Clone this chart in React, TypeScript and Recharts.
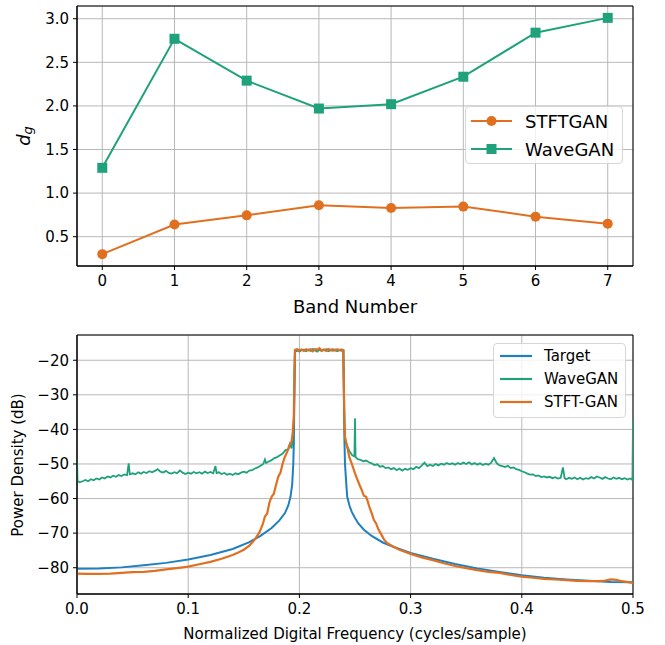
import React from 'react';
import {
  LineChart,
  Line,
  XAxis,
  YAxis,
  CartesianGrid,
  ReferenceArea
} from 'recharts';

// per-band distance d_g
const bandNumbers = [0, 1, 2, 3, 4, 5, 6, 7];
const stftganDg = [0.3, 0.64, 0.745, 0.86, 0.83, 0.845, 0.73, 0.648];
const waveganDg = [1.29, 2.77, 2.29, 1.97, 2.02, 2.335, 2.84, 3.01];

// power spectral density (dB) vs normalized frequency
const targetFreq = [
  0, 0.02, 0.04, 0.06, 0.08, 0.1, 0.12, 0.14, 0.155, 0.165, 0.175, 0.182, 0.187, 0.19, 0.192,
  0.1935, 0.1945, 0.195, 0.1955, 0.196, 0.2, 0.205, 0.21, 0.215, 0.22, 0.225, 0.23, 0.235,
  0.2395, 0.24, 0.2405, 0.241, 0.242, 0.243, 0.245, 0.247, 0.25, 0.253, 0.258, 0.265, 0.275,
  0.285, 0.3, 0.32, 0.34, 0.36, 0.38, 0.4, 0.42, 0.44, 0.46, 0.48, 0.5
];
const targetPsd = [
  -80.3, -80.2, -79.9, -79.3, -78.6, -77.6, -76.3, -74.6, -72.6, -70.8, -68.5, -66.3, -64.2, -62,
  -59.5, -56, -50, -44, -30, -17.5, -17.0, -17.1, -16.9, -17.0, -17.1, -16.9, -17.0, -17.0,
  -17.1, -30, -43, -50, -55, -59.5, -62, -63.8, -65.6, -67.2, -69, -70.8, -72.7,
  -74, -75.7, -77.4, -78.9, -80.2, -81.2, -82.2, -82.9, -83.4, -83.8, -84.1, -84.2
];

const waveganFreq = [
  0, 0.0005, 0.0025, 0.005, 0.0075, 0.01, 0.0125, 0.015, 0.0175, 0.02, 0.0225, 0.025, 0.0275,
  0.03, 0.0325, 0.035, 0.0375, 0.04, 0.0425, 0.045, 0.0465, 0.0475, 0.05, 0.0525, 0.055, 0.0575,
  0.06, 0.0625, 0.065, 0.0675, 0.07, 0.0725, 0.075, 0.0775, 0.08, 0.0825, 0.085, 0.0875, 0.09,
  0.0925, 0.095, 0.0975, 0.1, 0.1025, 0.105, 0.1075, 0.11, 0.1125, 0.115, 0.1175, 0.12, 0.1225,
  0.1245, 0.1255, 0.1275, 0.13, 0.1325, 0.135, 0.1375, 0.14, 0.1425, 0.145, 0.1475, 0.15, 0.1525,
  0.155, 0.1575, 0.16, 0.1625, 0.165, 0.1675, 0.169, 0.17, 0.1725, 0.175, 0.1775, 0.18, 0.1825,
  0.185, 0.1875, 0.19, 0.1915, 0.193, 0.194, 0.195, 0.1955, 0.196, 0.198, 0.2, 0.202, 0.204,
  0.206, 0.208, 0.21, 0.212, 0.214, 0.216, 0.218, 0.22, 0.222, 0.224, 0.226, 0.228, 0.23, 0.232,
  0.234, 0.236, 0.238, 0.2395, 0.24, 0.2405, 0.241, 0.2425, 0.245, 0.2475, 0.2495, 0.25, 0.2505,
  0.2525, 0.255, 0.2575, 0.26, 0.2625, 0.265, 0.2675, 0.27, 0.2725, 0.275, 0.2775, 0.28, 0.2825,
  0.285, 0.2875, 0.29, 0.2925, 0.295, 0.2975, 0.3, 0.3025, 0.305, 0.3075, 0.31, 0.3125, 0.315,
  0.3175, 0.32, 0.3225, 0.325, 0.3275, 0.33, 0.3325, 0.335, 0.3375, 0.34, 0.3425, 0.345, 0.3475,
  0.35, 0.3525, 0.355, 0.3575, 0.36, 0.3625, 0.365, 0.3675, 0.37, 0.3725, 0.375, 0.3775, 0.38,
  0.3825, 0.385, 0.3875, 0.39, 0.3925, 0.395, 0.3975, 0.4, 0.4025, 0.405, 0.4075, 0.41, 0.4125,
  0.415, 0.4175, 0.42, 0.4225, 0.425, 0.4275, 0.43, 0.4325, 0.435, 0.437, 0.4385, 0.44, 0.4425,
  0.445, 0.4475, 0.45, 0.4525, 0.455, 0.4575, 0.46, 0.4625, 0.465, 0.4675, 0.47, 0.4725, 0.475,
  0.4775, 0.48, 0.4825, 0.485, 0.4875, 0.49, 0.4925, 0.495, 0.4975, 0.4995, 0.5
];
const waveganPsd = [
  -48.5, -55.0, -55.3, -55.0, -54.6, -55.0, -54.4, -54.7, -54.2, -54.5, -53.9, -54.2, -53.6,
  -53.9, -53.4, -53.7, -53.2, -53.5, -53.0, -53.2, -49.8, -53.0, -52.7, -53.0, -52.4, -52.8,
  -52.3, -52.6, -52.1, -52.4, -52.0, -51.5, -52.2, -52.5, -52.0, -52.6, -52.8, -52.4, -52.7,
  -51.9, -52.5, -52.9, -52.5, -52.8, -52.3, -52.7, -52.4, -52.8, -52.2, -52.6, -52.3, -52.7,
  -50.6, -52.6, -52.4, -52.9, -52.6, -53.1, -52.8, -53.2, -52.7, -53.0, -52.5, -52.2, -52.5,
  -51.9, -51.8, -51.3, -51.0, -50.5, -50.0, -48.7, -49.7, -49.3, -48.9, -48.3, -48.0, -47.5,
  -47.0, -46.0, -45.8, -44.2, -45.5, -43, -38, -26, -17.3, -17.0, -17.5, -17.1, -16.9,
  -17.4, -17.0, -17.3, -16.8, -17.2, -17.5, -17.0, -17.3, -17.1, -16.9, -17.4, -17.1, -17.3, -17.0,
  -17.4, -17.1, -17.3, -17.2, -26, -38, -43, -44.5, -46.3, -47.5, -47.8, -36.8, -48.0,
  -48.6, -48.8, -49.2, -49.0, -49.5, -49.8, -50.3, -50.1, -50.8, -50.6, -51.2, -51.0, -51.5,
  -51.2, -51.8, -51.3, -51.9, -51.4, -51.7, -51.2, -51.5, -50.8, -51.2, -50.5, -49.6, -50.6,
  -50.2, -50.6, -50.0, -50.4, -49.9, -50.2, -49.7, -50.1, -49.8, -50.2, -49.7, -50.1, -49.6,
  -50.0, -49.5, -50.1, -49.7, -50.2, -49.8, -50.3, -49.9, -50.2, -49.6, -48.3, -49.8, -50.4,
  -50.6, -50.9, -50.5, -51.2, -51.0, -51.5, -51.7, -52.1, -52.4, -52.8, -53.1, -53.0, -53.5,
  -53.3, -53.8, -53.6, -53.9, -53.7, -54.1, -53.8, -54.2, -54.0, -51.0, -54.1, -54.4, -54.0,
  -54.3, -53.9, -54.4, -54.0, -54.5, -54.1, -54.3, -53.8, -54.2, -53.6, -53.9, -54.3, -53.8,
  -54.2, -54.4, -53.9, -54.3, -54.0, -54.4, -54.1, -54.5, -54.2, -54.6, -37.3
];

const stftFreq = [
  0, 0.01, 0.02, 0.03, 0.04, 0.05, 0.06, 0.07, 0.08, 0.09, 0.1, 0.11, 0.12, 0.13, 0.14, 0.145,
  0.15, 0.155, 0.16, 0.164, 0.167, 0.169, 0.171, 0.173, 0.175, 0.177, 0.179, 0.181, 0.183, 0.185,
  0.187, 0.189, 0.191, 0.193, 0.194, 0.195, 0.1955, 0.196, 0.198, 0.2, 0.202, 0.204, 0.206, 0.208,
  0.21, 0.212, 0.214, 0.216, 0.218, 0.22, 0.222, 0.224, 0.226, 0.228, 0.23, 0.232, 0.234, 0.236,
  0.238, 0.2395, 0.24, 0.2405, 0.241, 0.243, 0.245, 0.247, 0.25, 0.252, 0.254, 0.256, 0.258, 0.26,
  0.261, 0.263, 0.265, 0.267, 0.269, 0.271, 0.273, 0.276, 0.279, 0.285, 0.29, 0.3, 0.31, 0.32,
  0.33, 0.34, 0.35, 0.36, 0.37, 0.38, 0.39, 0.4, 0.41, 0.42, 0.43, 0.44, 0.45, 0.46, 0.47, 0.475,
  0.48, 0.485, 0.49, 0.5
];
const stftPsd = [
  -81.7, -81.8, -81.8, -81.7, -81.5, -81.3, -81.2, -80.9, -80.5, -80.1, -79.7, -79.0, -78.3,
  -77.4, -76.3, -75.6, -74.8, -73.6, -71.8, -69.8, -67.5, -65.2, -64.4, -61.2, -59.5, -58.6,
  -56.0, -53.7, -52.5, -49.8, -47.9, -46.5, -44.6, -43.5, -41, -36, -25, -17.0, -16.8, -17.2,
  -16.9, -17.3, -16.8, -17.1, -16.9, -17.4, -16.8, -17.0, -16.5, -17.2, -16.9, -17.3, -16.8,
  -17.1, -16.9, -17.2, -16.9, -17.1, -16.9, -17.2, -28, -38, -42.1, -45.0, -48.2, -49.8, -52.7,
  -54.4, -56.0, -57.5, -59.2, -59.5, -60.4, -62.5, -64.2, -66.2, -67.2, -68.9, -70.0, -71.8,
  -72.9, -74.0, -74.8, -76.0, -77.0, -77.8, -78.7, -79.5, -80.1, -80.7, -81.2, -81.5, -82.1,
  -82.6, -82.9, -83.2, -83.4, -83.6, -83.8, -83.9, -83.9, -83.7, -83.4, -83.5, -83.9, -84.4
];

const ORANGE = '#e07020';
const GREEN = '#1fa27b';
const BLUE = '#1f7fbf';
const GRID = '#b8b8b8';

const bandRows = bandNumbers.map((b, i) => ({
  band: b,
  stftgan: stftganDg[i],
  wavegan: waveganDg[i]
}));
const targetRows = targetFreq.map((f, i) => ({ f, psd: targetPsd[i] }));
const waveganRows = waveganFreq.map((f, i) => ({ f, psd: waveganPsd[i] }));
const stftRows = stftFreq.map((f, i) => ({ f, psd: stftPsd[i] }));

const minus = (v: number) => String(v).replace('-', '\u2212');
const tickStyle = { fill: '#000', fontSize: 15 };

const Square = (props: any) => {
  const { cx, cy, index } = props;
  return <rect key={`sq-${index}`} x={cx - 5} y={cy - 5} width={10} height={10} fill={GREEN} />;
};

const legendBox: React.CSSProperties = {
  position: 'absolute',
  background: 'rgba(255,255,255,0.8)',
  border: '1px solid #d6d6d6',
  borderRadius: 4,
  boxSizing: 'border-box'
};

function BandLegend() {
  const rows = [
    { name: 'STFTGAN', color: ORANGE, marker: 'circle', y: 14 },
    { name: 'WaveGAN', color: GREEN, marker: 'square', y: 42 }
  ];
  return (
    <div style={{ ...legendBox, left: 465, top: 106, width: 158, height: 58 }}>
      <svg width={158} height={58} style={{ position: 'absolute', left: 0, top: 0 }}>
        {rows.map((r) => (
          <g key={r.name}>
            <line x1={5} x2={46} y1={r.y} y2={r.y} stroke={r.color} strokeWidth={2} />
            {r.marker === 'circle' ? (
              <circle cx={25.5} cy={r.y} r={5} fill={r.color} />
            ) : (
              <rect x={20.5} y={r.y - 5} width={10} height={10} fill={r.color} />
            )}
            <text x={59} y={r.y} dominantBaseline="central" fontSize={18} fill="#000">
              {r.name}
            </text>
          </g>
        ))}
      </svg>
    </div>
  );
}

function PsdLegend() {
  const rows = [
    { name: 'Target', color: BLUE, y: 12 },
    { name: 'WaveGAN', color: GREEN, y: 35 },
    { name: 'STFT-GAN', color: ORANGE, y: 58 }
  ];
  return (
    <div style={{ ...legendBox, left: 493, top: 343, width: 133, height: 75 }}>
      <svg width={133} height={75} style={{ position: 'absolute', left: 0, top: 0 }}>
        {rows.map((r) => (
          <g key={r.name}>
            <line x1={6} x2={38} y1={r.y} y2={r.y} stroke={r.color} strokeWidth={2.2} />
            <text x={50} y={r.y} dominantBaseline="central" fontSize={15} fill="#000">
              {r.name}
            </text>
          </g>
        ))}
      </svg>
    </div>
  );
}

export default function App() {
  return (
    <div
      style={{
        position: 'absolute',
        left: 0,
        top: 0,
        width: 665,
        height: 645,
        background: '#fff',
        fontFamily: '"DejaVu Sans", sans-serif'
      }}
    >
      <LineChart
        width={665}
        height={320}
        data={bandRows}
        margin={{ top: 6, right: 32, left: 0, bottom: 0 }}
      >
        <CartesianGrid stroke={GRID} strokeWidth={1} />
        <XAxis
          dataKey="band"
          type="number"
          domain={[-0.35, 7.35]}
          ticks={bandNumbers}
          height={54}
          tick={tickStyle}
          tickSize={4}
          tickMargin={5}
          stroke="#000"
          allowDataOverflow
        />
        <YAxis
          type="number"
          domain={[0.164, 3.146]}
          ticks={[0.5, 1, 1.5, 2, 2.5, 3]}
          tickFormatter={(v: number) => v.toFixed(1)}
          width={77}
          tick={tickStyle}
          tickSize={4}
          tickMargin={4}
          stroke="#000"
          allowDataOverflow
        />
        <ReferenceArea
          x1={-0.35}
          x2={7.35}
          y1={0.164}
          y2={3.146}
          fill="none"
          stroke="#000"
          strokeWidth={1}
          ifOverflow="visible"
        />
        <Line
          dataKey="stftgan"
          stroke={ORANGE}
          strokeWidth={2}
          dot={{ r: 5, fill: ORANGE, stroke: ORANGE, strokeWidth: 0 }}
          isAnimationActive={false}
        />
        <Line
          dataKey="wavegan"
          stroke={GREEN}
          strokeWidth={2}
          dot={<Square />}
          isAnimationActive={false}
        />
        <text x={355} y={306} textAnchor="middle" dominantBaseline="central" fontSize={18} fill="#000">
          Band Number
        </text>
        <text
          x={23}
          y={136}
          textAnchor="middle"
          dominantBaseline="central"
          fontSize={18}
          fontStyle="italic"
          fill="#000"
          transform="rotate(-90 23 136)"
        >
          d
          <tspan fontSize={13} dy={4}>
            g
          </tspan>
        </text>
      </LineChart>

      <LineChart
        width={665}
        height={325}
        margin={{ top: 15, right: 32, left: 0, bottom: 0 }}
      >
        <CartesianGrid stroke={GRID} strokeWidth={1} />
        <XAxis
          dataKey="f"
          type="number"
          domain={[0, 0.5]}
          ticks={[0, 0.1, 0.2, 0.3, 0.4, 0.5]}
          tickFormatter={(v: number) => v.toFixed(1)}
          height={51}
          tick={tickStyle}
          tickSize={4}
          tickMargin={5}
          stroke="#000"
          allowDataOverflow
        />
        <YAxis
          dataKey="psd"
          type="number"
          domain={[-87.6, -12.7]}
          ticks={[-80, -70, -60, -50, -40, -30, -20]}
          tickFormatter={minus}
          width={77}
          tick={tickStyle}
          tickSize={4}
          tickMargin={4}
          stroke="#000"
          allowDataOverflow
        />
        <ReferenceArea
          x1={0}
          x2={0.5}
          y1={-87.6}
          y2={-12.7}
          fill="none"
          stroke="#000"
          strokeWidth={1}
          ifOverflow="visible"
        />
        <Line
          data={targetRows}
          dataKey="psd"
          stroke={BLUE}
          strokeWidth={2}
          dot={false}
          isAnimationActive={false}
        />
        <Line
          data={waveganRows}
          dataKey="psd"
          stroke={GREEN}
          strokeWidth={1.8}
          dot={false}
          isAnimationActive={false}
        />
        <Line
          data={stftRows}
          dataKey="psd"
          stroke={ORANGE}
          strokeWidth={2.2}
          dot={false}
          isAnimationActive={false}
        />
        <text x={355} y={314} textAnchor="middle" dominantBaseline="central" fontSize={15} fill="#000">
          Normalized Digital Frequency (cycles/sample)
        </text>
        <text
          x={18}
          y={145}
          textAnchor="middle"
          dominantBaseline="central"
          fontSize={15}
          fill="#000"
          transform="rotate(-90 18 145)"
        >
          Power Density (dB)
        </text>
      </LineChart>
      <BandLegend />
      <PsdLegend />
    </div>
  );
}
